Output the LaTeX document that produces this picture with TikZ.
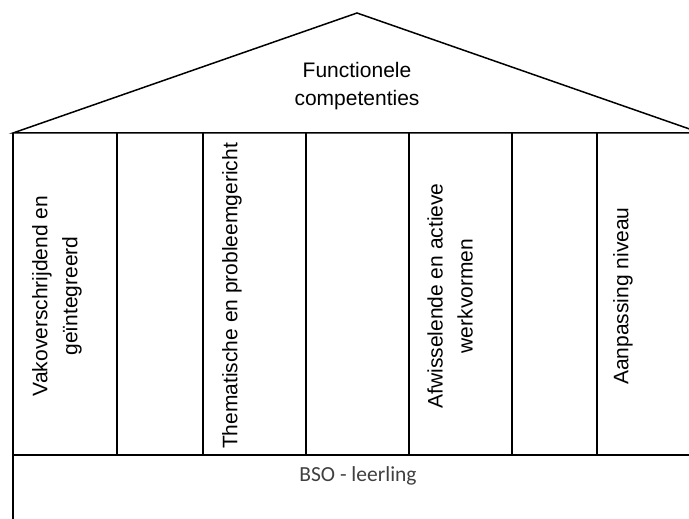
\documentclass[tikz,border=0pt]{standalone}
\usepackage{fontspec}
\setmainfont{Liberation Sans}
\newfontfamily\basisfont{Carlito}
\colorlet{bsogrijs}{black!75}
\tikzset{
    dak/.style={align=center,inner sep=0pt,font=\fontsize{21}{28}\selectfont},
    pijler/.style={rotate=90,align=center,inner sep=0pt,font=\fontsize{21}{30}\selectfont},
    sokkel/.style={bsogrijs,inner sep=0pt,font=\basisfont\fontsize{21.5}{26}\selectfont}
}

\begin{document}
\begin{tikzpicture}[x=1pt,y=-1pt,line width=1.5pt]
    \useasboundingbox (0,0) rectangle (689,519);
    \clip (0,0) rectangle (689,519);
    % roof
    \coordinate (nok) at (357,13);
    \coordinate (dakL) at (13,133);
    \coordinate (dakR) at (701,133);
    \draw (dakL) -- (nok) -- (dakR) -- cycle;
    \node [dak] (functioneel) at (357,86) {Functionele\\competenties};
    % pillars
    \foreach \x in {13,117,203,306,409,512,597,701} {
        \draw (\x,133) -- (\x,455);
    }
    \node [pijler] (vak) at (57,296) {Vakoverschrijdend en\\geïntegreerd};
    \node [pijler] (thema) at (232,296) {Thematische en probleemgericht};
    \node [pijler] (werkvorm) at (450,296) {Afwisselende en actieve\\werkvormen};
    \node [pijler] (niveau) at (623,296) {Aanpassing niveau};
    % base
    \draw (13,530) -- (13,455) -- (701,455);
    \node [sokkel] (bso) at (358,476) {BSO - leerling};
\end{tikzpicture}
\end{document}
